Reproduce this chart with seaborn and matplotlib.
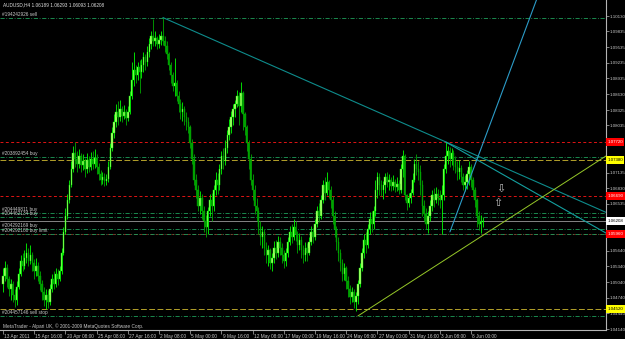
import matplotlib
matplotlib.use("Agg")
import numpy as np
import pandas as pd
import matplotlib.pyplot as plt
import matplotlib.transforms as mtrans
import seaborn as sns

# ---------------- data ----------------
header_text = "AUDUSD,H4 1.06189 1.06293 1.06093 1.06208"
copyright_text = "MetaTrader - Alpari UK, \u00a9 2001-2009 MetaQuotes Software Corp."

first_open = 1.0500
closes = [
    1.0515, 1.0530, 1.0510, 1.0490, 1.0500, 1.0480, 1.0470, 1.0495, 1.0520, 1.0545,
    1.0535, 1.0550, 1.0560, 1.0545, 1.0555, 1.0540, 1.0525, 1.0535, 1.0515, 1.0500,
    1.0485, 1.0470, 1.0480, 1.0465, 1.0490, 1.0510, 1.0500, 1.0520, 1.0510, 1.0525,
    1.0560, 1.0600, 1.0630, 1.0660, 1.0690, 1.0720, 1.0750, 1.0740, 1.0730, 1.0745,
    1.0728, 1.0735, 1.0720, 1.0738, 1.0725, 1.0740, 1.0730, 1.0742, 1.0725, 1.0710,
    1.0700, 1.0705, 1.0698, 1.0702, 1.0725, 1.0760, 1.0790, 1.0810, 1.0830, 1.0820,
    1.0835, 1.0822, 1.0830, 1.0818, 1.0830, 1.0860, 1.0890, 1.0910, 1.0900, 1.0915,
    1.0905, 1.0920, 1.0935, 1.0925, 1.0945, 1.0960, 1.0975, 1.0965, 1.0970, 1.0960,
    1.0968, 1.0975, 1.0965, 1.0955, 1.0940, 1.0920, 1.0900, 1.0880, 1.0885, 1.0860,
    1.0845, 1.0830, 1.0835, 1.0820, 1.0810, 1.0800, 1.0770, 1.0740, 1.0700, 1.0680,
    1.0650, 1.0665, 1.0640, 1.0620, 1.0610, 1.0640, 1.0660, 1.0650, 1.0680, 1.0700,
    1.0690, 1.0720, 1.0745, 1.0735, 1.0760, 1.0785, 1.0800, 1.0820, 1.0835, 1.0845,
    1.0860, 1.0840, 1.0865, 1.0825, 1.0800, 1.0770, 1.0740, 1.0700, 1.0680, 1.0650,
    1.0640, 1.0610, 1.0590, 1.0600, 1.0570, 1.0555, 1.0565, 1.0540, 1.0550, 1.0570,
    1.0560, 1.0580, 1.0570, 1.0555, 1.0545, 1.0560, 1.0580, 1.0600, 1.0590, 1.0610,
    1.0595, 1.0575, 1.0585, 1.0565, 1.0555, 1.0570, 1.0560, 1.0580, 1.0600, 1.0590,
    1.0615, 1.0640, 1.0630, 1.0660, 1.0690, 1.0675, 1.0695, 1.0680, 1.0660, 1.0630,
    1.0605, 1.0580, 1.0560, 1.0540, 1.0520, 1.0530, 1.0505, 1.0490, 1.0475, 1.0485,
    1.0465, 1.0478, 1.0500, 1.0530, 1.0560, 1.0585, 1.0575, 1.0605, 1.0625, 1.0615,
    1.0640, 1.0680, 1.0705, 1.0690, 1.0680, 1.0690, 1.0705, 1.0695, 1.0700, 1.0688,
    1.0695, 1.0685, 1.0692, 1.0680, 1.0720, 1.0745, 1.0670, 1.0655, 1.0665, 1.0675,
    1.0700, 1.0730, 1.0720, 1.0715, 1.0690, 1.0650, 1.0635, 1.0615, 1.0630, 1.0650,
    1.0670, 1.0660, 1.0672, 1.0665, 1.0660, 1.0670, 1.0720, 1.0745, 1.0755, 1.0740,
    1.0750, 1.0735, 1.0725, 1.0715, 1.0722, 1.0705, 1.0690, 1.0695, 1.0710, 1.0725,
    1.0700, 1.0680, 1.0660, 1.0630, 1.0615, 1.06189, 1.06208,
]
highs = [
    1.0530, 1.0545, 1.0538, 1.0515, 1.0510, 1.0505, 1.0490, 1.0505, 1.0530, 1.0555,
    1.0560, 1.0565, 1.0578, 1.0570, 1.0575, 1.0562, 1.0548, 1.0550, 1.0542, 1.0525,
    1.0508, 1.0495, 1.0490, 1.0488, 1.0500, 1.0520, 1.0525, 1.0530, 1.0528, 1.0535,
    1.0570, 1.0610, 1.0645, 1.0672, 1.0700, 1.0735, 1.0765, 1.0772, 1.0755, 1.0758,
    1.0750, 1.0748, 1.0742, 1.0750, 1.0745, 1.0752, 1.0755, 1.0758, 1.0748, 1.0732,
    1.0718, 1.0715, 1.0712, 1.0710, 1.0735, 1.0770, 1.0800, 1.0825, 1.0845, 1.0850,
    1.0852, 1.0840, 1.0842, 1.0835, 1.0840, 1.0870, 1.0925, 1.0945, 1.0920, 1.0925,
    1.0928, 1.0930, 1.0945, 1.0940, 1.0955, 1.0970, 1.0985, 1.1008, 1.0985, 1.0975,
    1.0978, 1.0985, 1.1011, 1.0975, 1.0965, 1.0945, 1.0925, 1.0905, 1.0932, 1.0890,
    1.0870, 1.0855, 1.0848, 1.0840, 1.0830, 1.0820, 1.0805, 1.0778, 1.0748, 1.0710,
    1.0690, 1.0678, 1.0672, 1.0650, 1.0632, 1.0648, 1.0672, 1.0675, 1.0690, 1.0715,
    1.0712, 1.0730, 1.0755, 1.0760, 1.0775, 1.0795, 1.0815, 1.0832, 1.0845, 1.0852,
    1.0872, 1.0868, 1.0887, 1.0870, 1.0830, 1.0805, 1.0775, 1.0748, 1.0710, 1.0690,
    1.0665, 1.0648, 1.0620, 1.0612, 1.0605, 1.0580, 1.0575, 1.0570, 1.0560, 1.0582,
    1.0585, 1.0592, 1.0590, 1.0578, 1.0565, 1.0570, 1.0590, 1.0612, 1.0615, 1.0625,
    1.0620, 1.0602, 1.0598, 1.0592, 1.0575, 1.0580, 1.0578, 1.0590, 1.0612, 1.0608,
    1.0625, 1.0650, 1.0655, 1.0670, 1.0700, 1.0705, 1.0715, 1.0700, 1.0688, 1.0668,
    1.0640, 1.0612, 1.0590, 1.0568, 1.0548, 1.0540, 1.0535, 1.0515, 1.0498, 1.0495,
    1.0490, 1.0485, 1.0508, 1.0540, 1.0570, 1.0595, 1.0600, 1.0615, 1.0638, 1.0640,
    1.0650, 1.0700, 1.0715, 1.0712, 1.0700, 1.0698, 1.0712, 1.0714, 1.0710, 1.0705,
    1.0708, 1.0702, 1.0705, 1.0700, 1.0730, 1.0757, 1.0748, 1.0672, 1.0675, 1.0682,
    1.0712, 1.0740, 1.0748, 1.0735, 1.0728, 1.0700, 1.0660, 1.0645, 1.0640, 1.0660,
    1.0680, 1.0684, 1.0685, 1.0682, 1.0680, 1.0690, 1.0730, 1.0772, 1.0765, 1.0762,
    1.0760, 1.0756, 1.0745, 1.0735, 1.0738, 1.0728, 1.0712, 1.0708, 1.0718, 1.0735,
    1.0730, 1.0705, 1.0685, 1.0665, 1.0640, 1.0632, 1.06293,
]
lows = [
    1.0485, 1.0505, 1.0495, 1.0478, 1.0470, 1.0465, 1.0456, 1.0460, 1.0490, 1.0515,
    1.0525, 1.0528, 1.0540, 1.0535, 1.0538, 1.0525, 1.0510, 1.0515, 1.0505, 1.0488,
    1.0470, 1.0458, 1.0452, 1.0455, 1.0460, 1.0485, 1.0490, 1.0495, 1.0498, 1.0505,
    1.0520, 1.0555, 1.0595, 1.0625, 1.0655, 1.0685, 1.0715, 1.0725, 1.0715, 1.0722,
    1.0715, 1.0718, 1.0705, 1.0712, 1.0715, 1.0718, 1.0720, 1.0722, 1.0710, 1.0700,
    1.0690, 1.0692, 1.0688, 1.0690, 1.0695, 1.0720, 1.0755, 1.0780, 1.0800, 1.0805,
    1.0812, 1.0810, 1.0815, 1.0805, 1.0812, 1.0825, 1.0855, 1.0880, 1.0885, 1.0890,
    1.0866, 1.0895, 1.0905, 1.0910, 1.0918, 1.0935, 1.0950, 1.0955, 1.0955, 1.0950,
    1.0952, 1.0958, 1.0958, 1.0945, 1.0930, 1.0910, 1.0885, 1.0870, 1.0860, 1.0850,
    1.0830, 1.0815, 1.0812, 1.0805, 1.0795, 1.0790, 1.0760, 1.0730, 1.0690, 1.0665,
    1.0640, 1.0635, 1.0625, 1.0600, 1.0590, 1.0595, 1.0630, 1.0620, 1.0640, 1.0670,
    1.0672, 1.0680, 1.0710, 1.0720, 1.0728, 1.0750, 1.0775, 1.0790, 1.0805, 1.0820,
    1.0838, 1.0805, 1.0830, 1.0795, 1.0785, 1.0755, 1.0720, 1.0690, 1.0660, 1.0635,
    1.0620, 1.0595, 1.0575, 1.0570, 1.0555, 1.0540, 1.0535, 1.0528, 1.0525, 1.0540,
    1.0548, 1.0552, 1.0555, 1.0540, 1.0530, 1.0535, 1.0552, 1.0575, 1.0578, 1.0585,
    1.0582, 1.0560, 1.0565, 1.0550, 1.0540, 1.0545, 1.0545, 1.0555, 1.0575, 1.0578,
    1.0585, 1.0610, 1.0618, 1.0625, 1.0655, 1.0660, 1.0670, 1.0665, 1.0645, 1.0615,
    1.0590, 1.0565, 1.0545, 1.0525, 1.0505, 1.0508, 1.0490, 1.0475, 1.0462, 1.0465,
    1.0455, 1.0449, 1.0462, 1.0495, 1.0525, 1.0550, 1.0560, 1.0570, 1.0595, 1.0600,
    1.0605, 1.0630, 1.0665, 1.0670, 1.0668, 1.0662, 1.0675, 1.0685, 1.0680, 1.0678,
    1.0680, 1.0676, 1.0678, 1.0672, 1.0675, 1.0705, 1.0660, 1.0642, 1.0648, 1.0655,
    1.0670, 1.0695, 1.0708, 1.0700, 1.0670, 1.0630, 1.0620, 1.0605, 1.0598, 1.0620,
    1.0640, 1.0648, 1.0655, 1.0652, 1.0645, 1.0595, 1.0660, 1.0712, 1.0730, 1.0725,
    1.0728, 1.0718, 1.0712, 1.0700, 1.0702, 1.0695, 1.0680, 1.0678, 1.0682, 1.0690,
    1.0685, 1.0668, 1.0648, 1.0610, 1.0603, 1.0598, 1.06093,
]

time_tick_bars = [0, 16, 32, 48, 64, 80, 96, 112, 128, 144, 160, 176, 192, 208, 224, 240]
time_tick_labels = ["13 Apr 2011", "15 Apr 16:00", "20 Apr 08:00", "25 Apr 08:00",
                    "27 Apr 16:00", "2 May 08:00", "5 May 00:00", "9 May 16:00",
                    "12 May 08:00", "17 May 00:00", "19 May 16:00", "24 May 08:00",
                    "27 May 00:00", "31 May 16:00", "3 Jun 08:00", "8 Jun 00:00"]

# price-axis labels that remain visible (others are covered by coloured level boxes)
price_ticks = [1.10130, 1.09835, 1.09535, 1.09235, 1.08935, 1.08630, 1.08325, 1.08035,
               1.07135, 1.06830, 1.06535, 1.05640,
               1.05340, 1.05040, 1.04740, 1.04440, 1.04140]

order_prices = [1.10092, 1.07432, 1.06360, 1.06284, 1.06054, 1.05958, 1.04389]
order_labels = ["#194242926 sell", "#203892454 buy", "#204449811 buy", "#204462134 buy",
                "#204292169 buy", "#204292180 buy limit", "#204457146 sell stop"]

red_levels = [1.07719, 1.06686, 1.05958]
red_level_labels = ["1.07720", "1.06690", "1.05960"]
yellow_levels = [1.07375, 1.04523]
yellow_level_labels = ["1.07380", "1.04520"]
bid_price = 1.06208
bid_label = "1.06208"

# trend lines: (bar index, price) end points
tl_top_bars, tl_top_prices = [82, 310], [1.1010, 1.0636]
tl_mid_bars, tl_mid_prices = [227, 310], [1.0772, 1.0596]
tl_steep_bars, tl_steep_prices = [229.2, 276], [1.0600, 1.1068]
tl_up_bars, tl_up_prices = [182, 310], [1.0439, 1.0747]

arrow_down_pos = (255.4, 1.0682)
arrow_up_pos = (253.8, 1.0656)

# ---------------- style ----------------
sns.set_style("dark", rc={"axes.facecolor": "black", "figure.facecolor": "black",
                          "axes.edgecolor": "#b4b4b4", "grid.color": "black"})
plt.rcParams['font.family'] = ['Liberation Sans', 'DejaVu Sans']

TXT = "#c8c8c8"
FS = 3.4
FS_AX = 3.2

fig = plt.figure(figsize=(6.25, 3.39), dpi=100)
ax = fig.add_axes([0.0, 9 / 339, 606 / 625, 330 / 339])
ax.set_facecolor("black")

n = min(len(closes), len(highs), len(lows))
df = pd.DataFrame({"close": closes[:n], "high": highs[:n], "low": lows[:n]})
df["open"] = [first_open] + list(df["close"].iloc[:-1])
df["high"] = df[["high", "open", "close"]].max(axis=1)
df["low"] = df[["low", "open", "close"]].min(axis=1)
df["bar"] = np.arange(n)
up = df["close"] >= df["open"]

# horizontal levels
hkw = dict(zorder=1)
for p in red_levels[:2]:
    ax.axhline(p, color="#e01414", lw=0.7, ls=(0, (3, 2.5)), **hkw)
ax.axhline(red_levels[2], color="#8c1a1a", lw=0.7, ls=(0, (3, 2.5)), **hkw)
for p in yellow_levels:
    ax.axhline(p, color="#b4a02a", lw=0.7, ls=(0, (6, 2.5)), **hkw)
for p in order_prices:
    ax.axhline(p, color="#1f9e5a", lw=0.6, ls=(0, (5, 2, 1, 2)), **hkw)
ax.axhline(bid_price, color="#9a9a9a", lw=0.6, **hkw)

# candles
wick_up, wick_dn = "#00ff00", "#00a800"
ax.vlines(df.loc[up, "bar"], df.loc[up, "low"], df.loc[up, "high"], color=wick_up, lw=0.6, zorder=3)
ax.vlines(df.loc[~up, "bar"], df.loc[~up, "low"], df.loc[~up, "high"], color=wick_dn, lw=0.6, zorder=3)
body_bottom = df[["open", "close"]].min(axis=1)
body_h = (df["close"] - df["open"]).abs().clip(lower=0.00004)
ax.bar(df.loc[up, "bar"], body_h[up], bottom=body_bottom[up], width=0.75,
       color="#b6ff70", edgecolor=wick_up, linewidth=0.3, zorder=4)
ax.bar(df.loc[~up, "bar"], body_h[~up], bottom=body_bottom[~up], width=0.75,
       color="#00a000", edgecolor=wick_dn, linewidth=0.3, zorder=4)

# trend lines via seaborn
sns.lineplot(x=tl_top_bars, y=tl_top_prices, ax=ax, color="#0e8c8c", lw=0.8, zorder=5)
sns.lineplot(x=tl_mid_bars, y=tl_mid_prices, ax=ax, color="#14a0a0", lw=0.8, zorder=5)
sns.lineplot(x=tl_steep_bars, y=tl_steep_prices, ax=ax, color="#2c9cc8", lw=0.8, zorder=5)
sns.lineplot(x=tl_up_bars, y=tl_up_prices, ax=ax, color="#96c828", lw=0.7, zorder=5)

# axes limits (pixel-calibrated)
ax.set_xlim(-1.54, 309.23)
ax.set_ylim(1.041215, 1.104362)

# order labels
for p, t in zip(order_prices, order_labels):
    ax.text(-0.5, p + 0.00012, t, fontsize=FS, color=TXT, ha="left", va="bottom", zorder=6)

# arrows
ax.text(*arrow_down_pos, "\u21e9", fontsize=8, color="#c0c0c0", ha="center", va="center",
        family="DejaVu Sans", zorder=6)
ax.text(*arrow_up_pos, "\u21e7", fontsize=8, color="#c0c0c0", ha="center", va="center",
        family="DejaVu Sans", zorder=6)

# spines
for s in ["top", "left"]:
    ax.spines[s].set_visible(False)
for s in ["right", "bottom"]:
    ax.spines[s].set_color("#b4b4b4")
    ax.spines[s].set_linewidth(0.8)
ax.grid(False)

# price axis
ax.yaxis.tick_right()
ax.set_yticks(price_ticks)
ax.set_yticklabels([f"{v:.5f}" for v in price_ticks])
ax.tick_params(axis="y", length=2, width=0.5, color="#b4b4b4", pad=0.6,
               labelsize=FS_AX, labelcolor=TXT, right=True, left=False)

# time axis
ax.set_xticks(time_tick_bars)
ax.set_xticklabels(time_tick_labels)
ax.tick_params(axis="x", length=3, width=0.5, color="#b4b4b4", pad=0.2,
               labelsize=FS, labelcolor=TXT, bottom=True)
offset = mtrans.ScaledTranslation(1.2 / 100, 0, fig.dpi_scale_trans)
for lbl in ax.get_xticklabels():
    lbl.set_ha("left")
    lbl.set_transform(lbl.get_transform() + offset)

# highlighted labels on the price axis
btrans = mtrans.blended_transform_factory(ax.transAxes, ax.transData)
def axis_box(price, text, face, tcol):
    ax.text(1.002, price, text, transform=btrans, fontsize=FS_AX, color=tcol, ha="left",
            va="center", clip_on=False, zorder=20,
            bbox=dict(boxstyle="square,pad=0.35", facecolor=face, edgecolor="none"))

for p, t in zip(red_levels, red_level_labels):
    axis_box(p, t, "#ff0000", "white")
for p, t in zip(yellow_levels, yellow_level_labels):
    axis_box(p, t, "#ffff00", "black")
axis_box(bid_price, bid_label, "#ffffff", "black")

# header and copyright
fig.text(3 / 625, 1 - 5 / 339, header_text, fontsize=FS, color="#e0e0e0", ha="left", va="center")
fig.text(3 / 625, 1 - 326 / 339, copyright_text, fontsize=FS, color=TXT, ha="left", va="center")

fig.savefig("out.png", dpi=100, facecolor="black")
